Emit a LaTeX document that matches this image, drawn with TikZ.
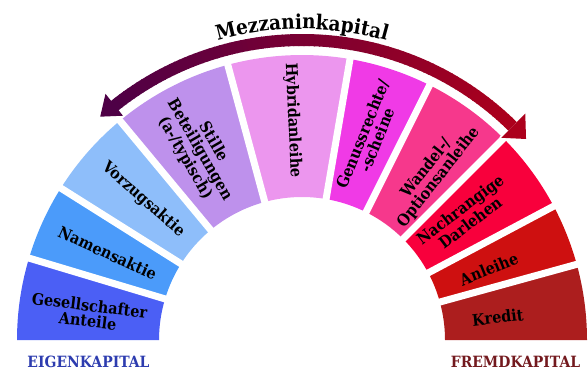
\documentclass[tikz,border=0pt]{standalone}
\usepackage{fontspec}
\setmainfont{DejaVu Serif}[FakeStretch=0.9]
\usetikzlibrary{decorations.text}
\definecolor{cGes}{RGB}{75,95,245}
\definecolor{cNam}{RGB}{75,155,250}
\definecolor{cVor}{RGB}{142,190,250}
\definecolor{cSti}{RGB}{190,145,236}
\definecolor{cHyb}{RGB}{236,150,238}
\definecolor{cGen}{RGB}{240,58,230}
\definecolor{cWan}{RGB}{246,56,140}
\definecolor{cNac}{RGB}{248,0,60}
\definecolor{cAnl}{RGB}{206,16,16}
\definecolor{cKre}{RGB}{172,30,30}
\definecolor{arrL}{RGB}{78,0,70}
\definecolor{arrR}{RGB}{172,0,28}
\definecolor{eigblue}{RGB}{45,60,175}
\definecolor{fremdred}{RGB}{115,25,30}
\newcommand\mysector[3]{\fill[#3] (#1:143) -- (#1:285) arc[start angle=#1, end angle=#2, radius=285] -- (#2:143) arc[start angle=#2, end angle=#1, radius=143] -- cycle;}
\begin{document}
\begin{tikzpicture}[x=1pt,y=1pt,
  seglabel/.style={font=\bfseries\fontsize{16}{15.5}\selectfont, align=center, inner sep=0pt, text=black},
  gapline/.style={white, line width=7},
  sidelabel/.style={font=\bfseries\fontsize{15.5}{15.5}\selectfont, inner sep=0pt, anchor=base}]
\useasboundingbox (0,0) rectangle (588,370);
\begin{scope}[shift={(302,30)}]
  % sectors
  \mysector{0}{15.4}{cKre}
  \mysector{15.4}{28}{cAnl}
  \mysector{28}{45}{cNac}
  \mysector{45}{63.4}{cWan}
  \mysector{63.4}{80.3}{cGen}
  \mysector{80.3}{105.1}{cHyb}
  \mysector{105.1}{129.7}{cSti}
  \mysector{129.7}{147.8}{cVor}
  \mysector{147.8}{163.3}{cNam}
  \mysector{163.3}{180}{cGes}
  % gaps
  \foreach \b in {15.4,28,45,63.4,80.3,105.1,129.7,147.8,163.3}
    \draw[gapline] (\b:136) -- (\b:292);
  % arrow: white underlay
  \draw[white, line width=17] (45.4:300) arc[start angle=45.4, end angle=128.6, radius=300];
  \draw[white, line width=4, line join=round] (45.4:284) -- (41.9:301) -- (45.4:318) -- cycle;
  \draw[white, line width=4, line join=round] (128.6:287) -- (132.1:301) -- (128.6:315) -- cycle;
  % gradient shaft
  \foreach \i in {0,...,82} {
    \pgfmathsetmacro\a{45.4+\i*83.2/83}
    \pgfmathtruncatemacro\p{100*\i/82}
    \draw[line width=12, draw=arrL!\p!arrR] (\a:300) arc[start angle=\a, delta angle=1.2, radius=300];
  }
  \fill[arrR] (45.4:284) -- (41.9:301) -- (45.4:318) -- cycle;
  \fill[arrL] (128.6:287) -- (132.1:301) -- (128.6:315) -- cycle;
  % curved title
  \path[decorate, decoration={text along path, text align=center,
     text={|\bfseries\fontsize{20.5}{20.5}\selectfont|Mezzaninkapital}}]
     (125:311) arc[start angle=125, end angle=55, radius=311];
  % labels
  \node[seglabel, rotate=-7] (ges) at (172.8:215) {Gesellschafter\\Anteile};
  \node[seglabel, rotate=-24.4] (nam) at (155.9:213) {Namensaktie};
  \node[seglabel, rotate=-41.5] (vor) at (138.5:212) {Vorzugsaktie};
  \node[seglabel, rotate=-60] (sti) at (118.5:216) {Stille\\Beteiligungen\\(a-/typisch)};
  \node[seglabel, rotate=-87.5] (hyb) at (92.4:220) {Hybridanleihe};
  \node[seglabel, rotate=68] (gen) at (71.6:214) {Genussrechte/\\-scheine};
  \node[seglabel, rotate=52] (wan) at (52:212) {Wandel-/\\Optionsanleihe};
  \node[seglabel, rotate=37] (nac) at (37.3:205) {Nachrangige\\Darlehen};
  \node[seglabel, rotate=22] (anl) at (20.8:200) {Anleihe};
  \node[seglabel, rotate=6.5] (kre) at (6.6:197) {Kredit};
\end{scope}
\node[sidelabel, text=eigblue] (eig) at (88.5,2.5) {EIGENKAPITAL};
\node[sidelabel, text=fremdred] (fremd) at (515.5,3) {FREMDKAPITAL};
\end{tikzpicture}
\end{document}
